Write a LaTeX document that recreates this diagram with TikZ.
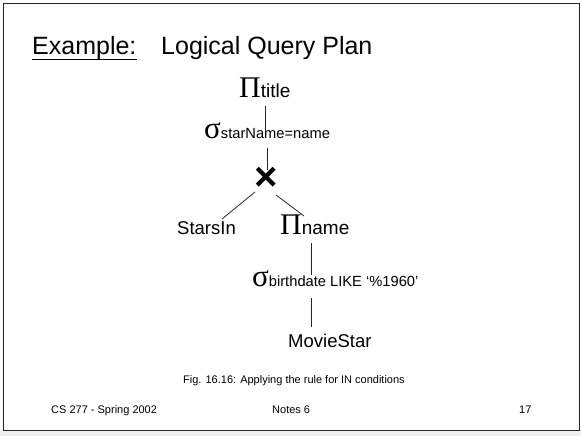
\documentclass[tikz,border=0pt]{standalone}
\usepackage{fontspec}
\setmainfont{Liberation Sans}
\newfontfamily\grkfont{Liberation Serif}
\usetikzlibrary{calc}
\newcommand\projop[1]{{\grkfont\fontsize{30}{30}\selectfont Π}{\fontsize{19}{20}\selectfont #1}}
\newcommand\selop[1]{{\grkfont\fontsize{31}{30}\selectfont σ}{\fontsize{14.7}{16}\selectfont #1}}
\begin{document}
\begin{tikzpicture}[x=1pt,y=-1pt,
	every node/.style={inner sep=0pt,anchor=base west},
	lbl/.style={font=\fontsize{18.5}{20}\selectfont},
	small/.style={font=\fontsize{11}{13}\selectfont},
	edge/.style={draw=black!85,line width=0.8pt}]
		\useasboundingbox (0,0) rectangle (581,436);
		\fill[black!6] (0,430) rectangle (581,436);
		\draw[black!85,line width=1pt] (3.5,3.5) rectangle (579,430);
		\node[font=\fontsize{25}{30}\selectfont] (ex) at (32,55) {Example:};
		\draw[line width=1.3pt] ([yshift=-4.5pt]ex.base west) -- ([yshift=-4.5pt]ex.base east);
		\node[font=\fontsize{25}{30}\selectfont] (plan) at (161,55) {Logical Query Plan};
		\node (ptitle) at (239,97) {\projop{title}};
		\node (sel1) at (204,138) {\selop{starName=name}};
		\node[anchor=center,font=\fontsize{40}{40}\selectfont\bfseries] (join) at (266,179) {×};
		\node[lbl] (stars) at (177,234) {StarsIn};
		\node (pname) at (280,234) {\projop{name}};
		\node (sel2) at (252,286) {\selop{birthdate LIKE ‘\%1960’}};
		\node[lbl] (movie) at (288,347) {MovieStar};
		\node[small] (cap) at (183,383) {Fig. 16.16: Applying the rule for IN conditions};
		\node[small] (foot1) at (51,413) {CS 277 - Spring 2002};
		\node[small] (foot2) at (272,413) {Notes 6};
		\node[small] (foot3) at (519,413) {17};
		\draw[edge] ($(ptitle.base west)+(26,9)$) -- ($(sel1.base west)+(61,-6)$);
		\draw[edge] ($(sel1.base west)+(63,10)$) -- ($(join.center)+(1,-9)$);
		\draw[edge] ($(join.center)+(-11,13)$) -- ($(stars.base west)+(45,-15)$);
		\draw[edge] ($(join.center)+(10,16)$) -- ($(pname.base west)+(24,-18)$);
		\draw[edge] ($(pname.base west)+(31,9)$) -- ($(sel2.base west)+(59,-11)$);
		\draw[edge] ($(sel2.base west)+(59,12)$) -- ($(movie.base west)+(23,-20)$);
\end{tikzpicture}
\end{document}
